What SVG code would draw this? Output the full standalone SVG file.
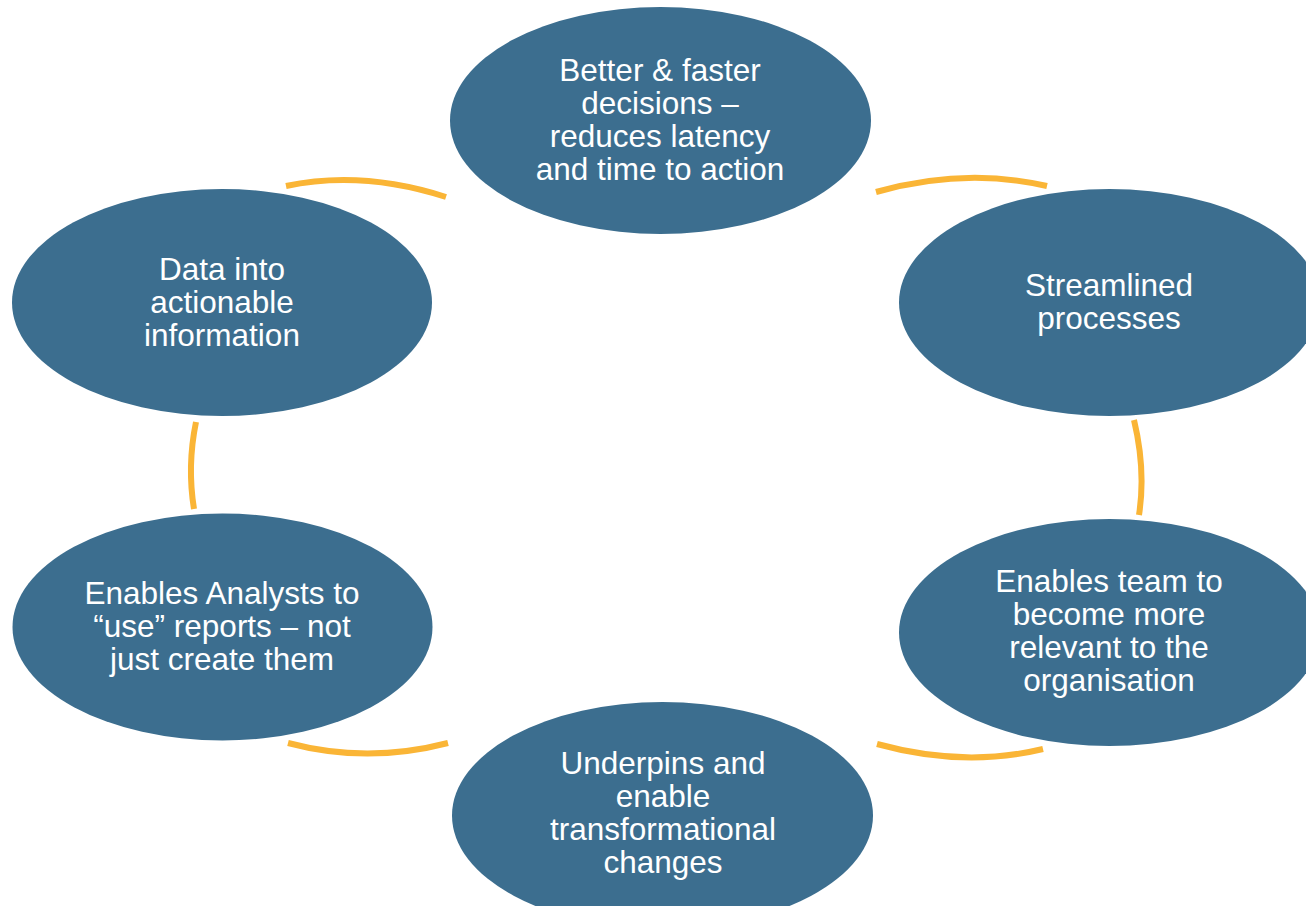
<svg xmlns="http://www.w3.org/2000/svg" width="1306" height="906" viewBox="0 0 1306 906">
<style>
.node{fill:#3C6E8F;}
.lbl{font-family:"Liberation Sans",Arial,sans-serif;font-size:31.5px;fill:#FFFFFF;text-anchor:middle;}
.arc{fill:none;stroke:#FAB536;stroke-width:6;}
</style>
<rect width="1306" height="906" fill="#FFFFFF"/>
<g id="connectors">
<path class="arc" d="M286,186 Q362,170 446,197"/>
<path class="arc" d="M876,192 Q965,167 1047,186"/>
<path class="arc" d="M1134,420 Q1146,470 1139,515"/>
<path class="arc" d="M877,744 Q964,768 1043,749"/>
<path class="arc" d="M448,743 Q367,764 288,743"/>
<path class="arc" d="M194,509 Q187,466 196,422"/>
</g>
<g id="node-top">
<ellipse class="node" cx="660.5" cy="120.5" rx="210.5" ry="113.5"/>
<text class="lbl"><tspan x="660" y="81">Better &amp; faster</tspan><tspan x="660" y="114">decisions –</tspan><tspan x="660" y="147">reduces latency</tspan><tspan x="660" y="180">and time to action</tspan></text>
</g>
<g id="node-right-top">
<ellipse class="node" cx="1109.5" cy="302.5" rx="210.5" ry="113.5"/>
<text class="lbl"><tspan x="1109" y="296">Streamlined</tspan><tspan x="1109" y="329">processes</tspan></text>
</g>
<g id="node-right-bottom">
<ellipse class="node" cx="1109.5" cy="632.5" rx="210.5" ry="113.5"/>
<text class="lbl"><tspan x="1109" y="592">Enables team to</tspan><tspan x="1109" y="625">become more</tspan><tspan x="1109" y="658">relevant to the</tspan><tspan x="1109" y="691">organisation</tspan></text>
</g>
<g id="node-bottom">
<ellipse class="node" cx="662.5" cy="815.5" rx="210.5" ry="113.5"/>
<text class="lbl"><tspan x="663" y="774">Underpins and</tspan><tspan x="663" y="807">enable</tspan><tspan x="663" y="840">transformational</tspan><tspan x="663" y="873">changes</tspan></text>
</g>
<g id="node-left-bottom">
<ellipse class="node" cx="222.5" cy="627" rx="210" ry="113.5"/>
<text class="lbl"><tspan x="222" y="604">Enables Analysts to</tspan><tspan x="222" y="637">“use” reports – not</tspan><tspan x="222" y="670">just create them</tspan></text>
</g>
<g id="node-left-top">
<ellipse class="node" cx="222" cy="302.5" rx="210" ry="113.5"/>
<text class="lbl"><tspan x="222" y="280">Data into</tspan><tspan x="222" y="313">actionable</tspan><tspan x="222" y="346">information</tspan></text>
</g>
</svg>
